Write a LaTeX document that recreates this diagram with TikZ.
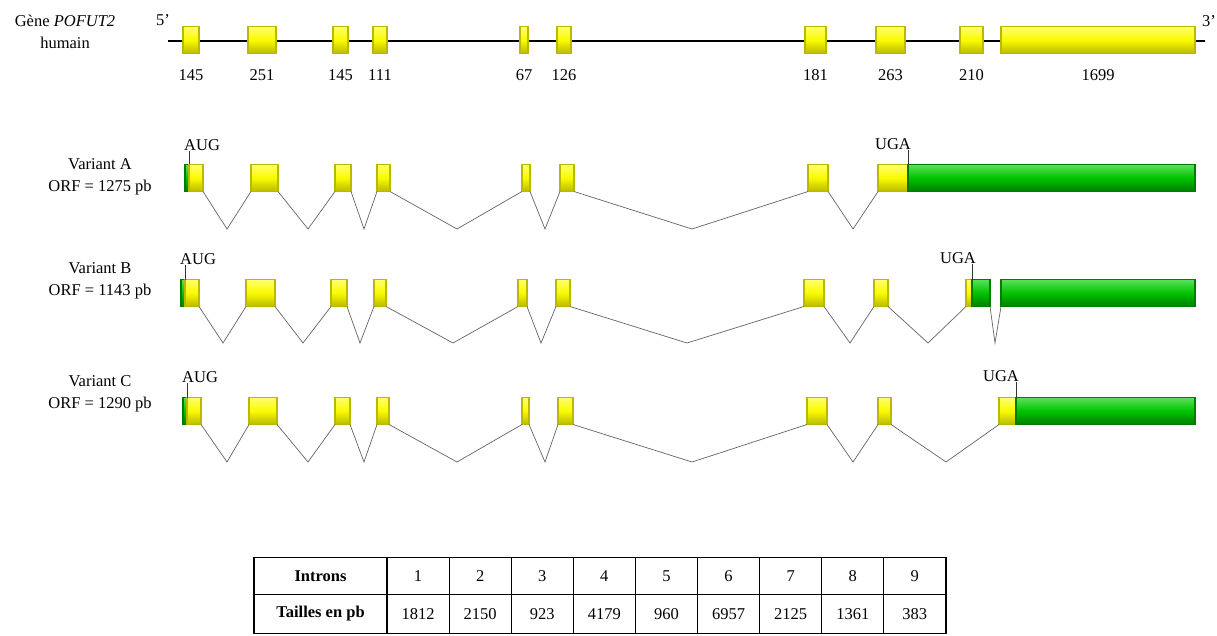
\documentclass[tikz,border=0pt]{standalone}
\usepackage{fontspec}
\setmainfont{Liberation Serif}
\usetikzlibrary{positioning}
\definecolor{exY}{RGB}{250,250,0}
\definecolor{exYd}{RGB}{185,185,0}
\definecolor{exYl}{RGB}{255,255,110}
\definecolor{exG}{RGB}{0,195,0}
\definecolor{exGd}{RGB}{0,125,0}
\definecolor{exGl}{RGB}{90,225,90}
\definecolor{intr}{RGB}{100,100,100}
\tikzset{
  yex/.style={rectangle, inner sep=0pt, outer sep=0pt, draw=exYd, line width=1.2pt,
    top color=exYl, bottom color=exYd, middle color=exY, minimum height=27},
  gex/.style={rectangle, inner sep=0pt, outer sep=0pt, draw=exGd, line width=1.2pt,
    top color=exGl, bottom color=exGd, middle color=exG, minimum height=27},
  lbl/.style={font=\fontsize{16.5}{22}\selectfont, inner sep=0pt, align=center},
  num/.style={font=\fontsize{16.5}{20}\selectfont, inner sep=0pt},
  intron/.style={draw=intr, line width=0.7pt},
  tick/.style={draw=black!80, line width=0.9pt},
  cell/.style={draw=black, line width=1.2pt, inner sep=0pt, minimum height=37, font=\fontsize{16.5}{20}\selectfont},
}
\newcommand\exon[5]{\node[#5, minimum width={(#3)-(#2)}] (#1) at ({((#2)+(#3))/2},#4) {};}
\begin{document}
\begin{tikzpicture}[x=1pt,y=-1pt]
\useasboundingbox[fill=white] (0,0) rectangle (1217,636);
% ---------- gene ----------
\node[lbl] (glab) at (65,32) {Gène \textit{POFUT2}\\humain};
\node[num] (p5) at (163,20) {5'};
\node[num] (p3) at (1209,21) {3'};
\coordinate (gl) at (168,41);
\coordinate (gr) at (1205,41);
\draw[black, line width=1.2pt] (gl) -- (gr);
\foreach \n/\a/\b/\t in {1/183/199/145, 2/248/276/251, 3/333/348/145, 4/373/387/111, 5/520/528/67,
  6/557/571/126, 7/805/826/181, 8/876/905/263, 9/960/983/210, 10/1001/1195/1699}{
  \exon{g\n}{\a}{\b}{40}{yex}
  \node[num] (gn\n) at ({(\a+\b)/2},75) {\t};
}
% ---------- Variant A ----------
\node[lbl] (labA) at (100,177) {Variant A\\ORF = 1275 pb};
\exon{a0}{185}{189}{178}{gex}
\foreach \n/\a/\b in {1/189/203, 2/251/278, 3/335/351, 4/377/390, 5/522/530, 6/560/574, 7/808/828, 8/878/908}{
  \exon{a\n}{\a}{\b}{178}{yex}
}
\exon{a9}{908}{1195}{178}{gex}
\foreach \v/\p/\q in {227/a1/a2, 308/a2/a3, 364/a3/a4, 457/a4/a5, 545/a5/a6, 692/a6/a7, 853/a7/a8}{
  \coordinate (va-\p) at (\v,229);
  \draw[intron] (\p.south east) -- (va-\p) -- (\q.south west);
}
\node[num, anchor=south west] (augA) at (184,151) {AUG};
\draw[tick] (a1.north west) -- (augA.south west -| a1.north west);
\node[num] (ugaA) at (893,144) {UGA};
\draw[tick] (a9.north west) -- (ugaA.south -| a9.north west);
% ---------- Variant B ----------
\node[lbl] (labB) at (100,281) {Variant B\\ORF = 1143 pb};
\exon{b0}{181}{185}{293}{gex}
\foreach \n/\a/\b in {1/185/199, 2/246/275, 3/331/347, 4/374/386, 5/518/527, 6/556/570, 7/804/824, 8/874/888, 9/966/972}{
  \exon{b\n}{\a}{\b}{293}{yex}
}
\exon{b10}{972}{990}{293}{gex}
\exon{b11}{1001}{1195}{293}{gex}
\foreach \v/\p/\q in {223/b1/b2, 303/b2/b3, 360/b3/b4, 453/b4/b5, 541/b5/b6, 687/b6/b7, 850/b7/b8, 928/b8/b9, 995/b10/b11}{
  \coordinate (vb-\p) at (\v,343);
  \draw[intron] (\p.south east) -- (vb-\p) -- (\q.south west);
}
\node[num, anchor=south west] (augB) at (180,265) {AUG};
\draw[tick] (b1.north west) -- (augB.south west -| b1.north west);
\node[num] (ugaB) at (958,258) {UGA};
\draw[tick] (b10.north west) -- (ugaB.south -| b10.north west);
% ---------- Variant C ----------
\node[lbl] (labC) at (100,394) {Variant C\\ORF = 1290 pb};
\exon{c0}{183}{187}{411}{gex}
\foreach \n/\a/\b in {1/187/201, 2/249/277, 3/335/350, 4/377/389, 5/522/529, 6/558/573, 7/807/827, 8/878/891, 9/999/1016}{
  \exon{c\n}{\a}{\b}{411}{yex}
}
\exon{c10}{1016}{1195}{411}{gex}
\foreach \v/\p/\q in {227/c1/c2, 308/c2/c3, 364/c3/c4, 457/c4/c5, 545/c5/c6, 692/c6/c7, 853/c7/c8, 946/c8/c9}{
  \coordinate (vc-\p) at (\v,462);
  \draw[intron] (\p.south east) -- (vc-\p) -- (\q.south west);
}
\node[num, anchor=south west] (augC) at (182,383) {AUG};
\draw[tick] (c1.north west) -- (augC.south west -| c1.north west);
\node[num] (ugaC) at (1001,376) {UGA};
\draw[tick] (c10.north west) -- (ugaC.south -| c10.north west);
% ---------- table ----------
\node[cell, minimum width=133, font=\fontsize{16.5}{20}\selectfont\bfseries] (h0) at (320.5,576) {Introns};
\node[cell, minimum width=133, minimum height=39, font=\fontsize{16.5}{20}\selectfont\bfseries] (r0) at (320.5,614) {Tailles en pb};
\foreach \i/\s in {1/1812, 2/2150, 3/923, 4/4179, 5/960, 6/6957, 7/2125, 8/1361, 9/383}{
  \node[cell, minimum width=62.1] (h\i) at ({387+62.1*(\i-0.5)},576) {\i};
  \node[cell, minimum width=62.1, minimum height=39] (r\i) at ({387+62.1*(\i-0.5)},614) {\s};
}
\end{tikzpicture}
\end{document}
